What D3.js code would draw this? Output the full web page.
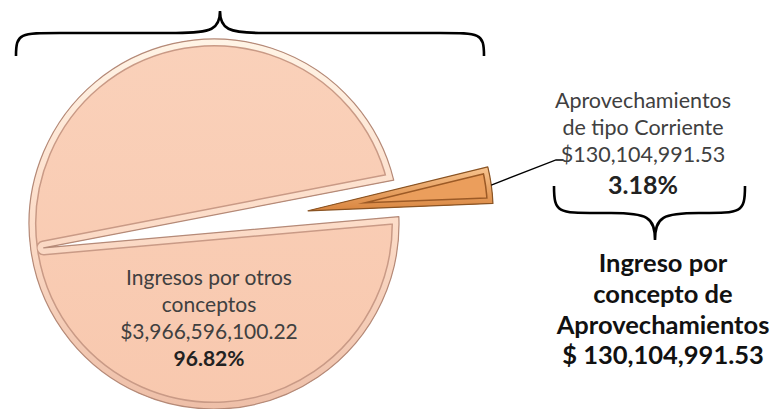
<!DOCTYPE html>
<html><head><meta charset="utf-8">
<script src="https://cdn.jsdelivr.net/npm/d3@7/dist/d3.min.js"></script>
<style>
html,body{margin:0;padding:0;background:#fff;}
svg{display:block;}
text{font-family:Lato,"Open Sans",sans-serif;}
</style></head>
<body>
<svg id="chart" width="783" height="409"></svg>
<script>
// ---- data ----
const categories = ["Aprovechamientos de tipo Corriente", "Ingresos por otros conceptos"];
const values = [130104991.53, 3966596100.22];
const sliceLabels = [
  ["Aprovechamientos", "de tipo Corriente", "$130,104,991.53"],
  ["Ingresos por otros", "conceptos", "$3,966,596,100.22"]
];
const totalLabel = ["Ingreso por", "concepto de", "Aprovechamientos", "$ 130,104,991.53"];

const svg = d3.select("#chart");
const cx = 214, cy = 224, R = 185;
const total = d3.sum(values);
const pct = d3.format(".2%");

// small slice centred ~8 degrees above horizontal (d3 angle 82deg)
const smallMid = 82 * Math.PI / 180;
const a0 = smallMid - (values[0] / total) * Math.PI;
const pie = d3.pie().sort(null).startAngle(a0).endAngle(a0 + 2 * Math.PI);
const arcs = pie(values);

const defs = svg.append("defs");
function grad(id, stops) {
  const g = defs.append("linearGradient").attr("id", id).attr("x1", 0).attr("y1", 0).attr("x2", 0).attr("y2", 1);
  stops.forEach(s => g.append("stop").attr("offset", s[0]).attr("stop-color", s[1]));
}
grad("bandBig", [[0, "#fff4e6"], [0.5, "#fcdcc8"], [1, "#eebfa8"]]);
grad("bandSmall", [[0, "#f8c48f"], [1, "#d9853f"]]);
grad("fillBig", [[0, "#fad1ba"], [1, "#f8c8ae"]]);

const pt = (a, r) => [r * Math.sin(a), -r * Math.cos(a)];

// big slice: arc around, edges meeting near the far rim point
const big = arcs[1];
const bigMid = (big.startAngle + big.endAngle) / 2;
const apex = pt(bigMid, R * 0.93);
const p = d3.path();
const s0 = pt(big.startAngle, R);
p.moveTo(s0[0], s0[1]);
p.arc(0, 0, R, big.startAngle - Math.PI / 2, big.endAngle - Math.PI / 2, false);
p.lineTo(apex[0], apex[1]);
p.closePath();
const bigPath = p.toString();

// small slice: standard exploded arc
const small = arcs[0];
const arcGen = d3.arc().innerRadius(0).outerRadius(R);
const smallPath = arcGen(small);
const explode = 95;
const off = pt((small.startAngle + small.endAngle) / 2, explode);

function bevel(g, d, id, fill, band, dark, edge, w) {
  defs.append("clipPath").attr("id", id).append("path").attr("d", d);
  g.append("path").attr("d", d).attr("fill", fill);
  const c = g.append("g").attr("clip-path", `url(#${id})`);
  c.append("path").attr("d", d).attr("fill", "none").attr("stroke", dark).attr("stroke-width", 2 * w + 3).attr("stroke-linejoin", "round");
  c.append("path").attr("d", d).attr("fill", "none").attr("stroke", band).attr("stroke-width", 2 * w).attr("stroke-linejoin", "round");
  g.append("path").attr("d", d).attr("fill", "none").attr("stroke", edge).attr("stroke-width", 1.2).attr("stroke-linejoin", "round");
}

const gBig = svg.append("g").attr("transform", `translate(${cx},${cy})`);
bevel(gBig, bigPath, "clipBig", "url(#fillBig)", "url(#bandBig)", "#c99a86", "#b58a78", 6);

const gSmall = svg.append("g").attr("transform", `translate(${cx + off[0]},${cy + off[1]})`);
bevel(gSmall, smallPath, "clipSmall", "#eb9e5c", "url(#bandSmall)", "#9c5a26", "#8a5424", 5);

// leader line from small slice to its label
const outer = pt((small.startAngle + small.endAngle) / 2, R);
const lx = cx + off[0] + outer[0], ly = cy + off[1] + outer[1];
svg.append("path")
  .attr("d", d3.line()([[lx, ly], [556, 160], [563, 160]]))
  .attr("fill", "none").attr("stroke", "#000").attr("stroke-width", 1.3);

// labels
const smallLbl = svg.append("text").attr("text-anchor", "middle").attr("fill", "#404040").attr("font-size", 21.5);
[108, 135, 162].forEach((y, i) => smallLbl.append("tspan").attr("x", 643).attr("y", y).text(sliceLabels[0][i]));
smallLbl.append("tspan").attr("x", 643).attr("y", 194).attr("font-weight", "bold").attr("font-size", 25).attr("fill", "#222").text(pct(values[0] / total));

const bigLbl = svg.append("text").attr("text-anchor", "middle").attr("fill", "#404040").attr("font-size", 21);
[285, 312, 339].forEach((y, i) => bigLbl.append("tspan").attr("x", 209).attr("y", y).text(sliceLabels[1][i]));
bigLbl.append("tspan").attr("x", 209).attr("y", 366).attr("font-weight", "bold").attr("fill", "#222").text(pct(values[1] / total));

const totLbl = svg.append("text").attr("text-anchor", "middle").attr("fill", "#111").attr("font-size", 25.5).attr("font-weight", "bold");
[272, 303, 334, 364].forEach((y, i) => totLbl.append("tspan").attr("x", 663).attr("y", y).text(totalLabel[i]));

// braces
function braceH(x0, x1, xm, yEnd, yLine, yTip, dir) {
  const q = d3.path();
  const c = 22;
  q.moveTo(x0, yEnd);
  q.bezierCurveTo(x0, yLine, x0 + 4, yLine, x0 + c * 2, yLine);
  q.lineTo(xm - c * 2, yLine);
  q.bezierCurveTo(xm - 8, yLine, xm, yLine - dir * 4, xm, yTip);
  q.bezierCurveTo(xm, yLine - dir * 4, xm + 8, yLine, xm + c * 2, yLine);
  q.lineTo(x1 - c * 2, yLine);
  q.bezierCurveTo(x1 - 4, yLine, x1, yLine, x1, yEnd);
  return q.toString();
}
svg.append("path").attr("d", braceH(16, 484, 220, 56, 33, 11, 1))
  .attr("fill", "none").attr("stroke", "#000").attr("stroke-width", 2.6);
svg.append("path").attr("d", braceH(554, 745, 655, 186, 213, 240, -1))
  .attr("fill", "none").attr("stroke", "#000").attr("stroke-width", 2.6);
</script>
</body></html>
